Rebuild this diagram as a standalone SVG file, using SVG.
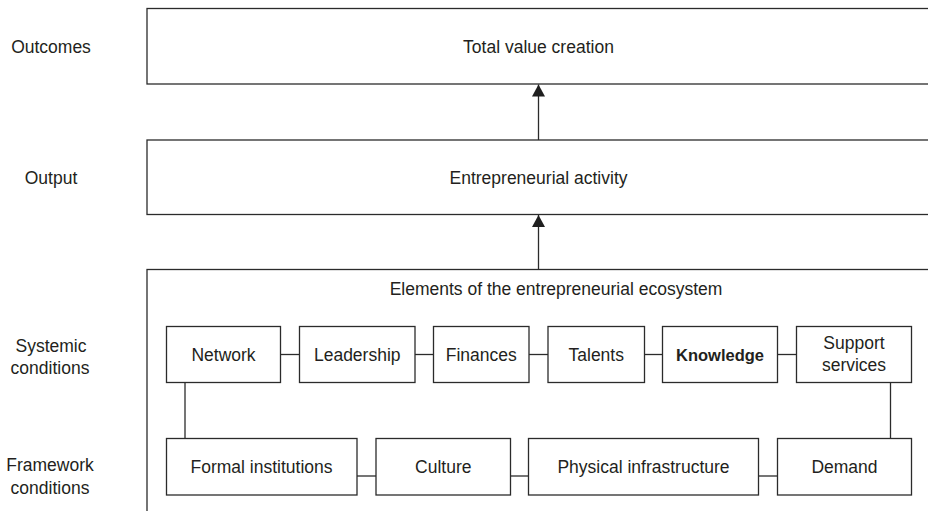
<svg xmlns="http://www.w3.org/2000/svg" width="928" height="511" viewBox="0 0 928 511">
  <style>
    .box { fill: #ffffff; stroke: #2b2b2b; stroke-width: 1.3; }
    .con { fill: none; stroke: #2b2b2b; stroke-width: 1.3; }
    text { font-family: "Liberation Sans", Arial, sans-serif; font-size: 17.5px; fill: #231f20; text-anchor: middle; }
    .bold { font-weight: bold; }
  </style>
  <defs>
    <marker id="arrow" markerUnits="userSpaceOnUse" markerWidth="13" markerHeight="13" refX="12" refY="6.5" orient="auto">
      <path d="M0,0 L12,6.5 L0,13 z" fill="#1f1f1f"/>
    </marker>
  </defs>

  <!-- Row labels -->
  <g id="labels">
    <text x="51" y="53">Outcomes</text>
    <text x="51" y="184">Output</text>
    <text x="51" y="351.5">Systemic</text>
    <text x="50" y="373.5">conditions</text>
    <text x="50" y="471">Framework</text>
    <text x="50" y="494">conditions</text>
  </g>

  <g id="outcomes">
    <rect class="box" x="147" y="8.5" width="800" height="75.5"/>
    <text x="538.5" y="53">Total value creation</text>
  </g>

  <g id="output">
    <rect class="box" x="147" y="140" width="800" height="74.5"/>
    <text x="538.5" y="184">Entrepreneurial activity</text>
  </g>

  <g id="ecosystem">
    <rect class="box" x="147" y="269.5" width="800" height="260"/>
    <text x="556" y="295">Elements of the entrepreneurial ecosystem</text>
  </g>

  <g id="connectors">
    <line class="con" x1="538.5" y1="140" x2="538.5" y2="84.5" marker-end="url(#arrow)"/>
    <line class="con" x1="538.5" y1="269.5" x2="538.5" y2="215" marker-end="url(#arrow)"/>
    <line class="con" x1="280.5" y1="354.5" x2="299.5" y2="354.5"/>
    <line class="con" x1="415" y1="354.5" x2="433.5" y2="354.5"/>
    <line class="con" x1="529" y1="354.5" x2="548" y2="354.5"/>
    <line class="con" x1="644.5" y1="354.5" x2="662.5" y2="354.5"/>
    <line class="con" x1="777.5" y1="354.5" x2="796.5" y2="354.5"/>
    <line class="con" x1="357" y1="476" x2="376" y2="476"/>
    <line class="con" x1="510.5" y1="476" x2="528.5" y2="476"/>
    <line class="con" x1="758.5" y1="476" x2="777.5" y2="476"/>
    <line class="con" x1="185" y1="382.5" x2="185" y2="438.5"/>
    <line class="con" x1="890.5" y1="382.5" x2="890.5" y2="438.5"/>
  </g>

  <g id="network">
    <rect class="box" x="166.5" y="326.5" width="114" height="56"/>
    <text x="223.5" y="360.5">Network</text>
  </g>
  <g id="leadership">
    <rect class="box" x="299.5" y="326.5" width="115.5" height="56"/>
    <text x="357.25" y="360.5">Leadership</text>
  </g>
  <g id="finances">
    <rect class="box" x="433.5" y="326.5" width="95.5" height="56"/>
    <text x="481.25" y="360.5">Finances</text>
  </g>
  <g id="talents">
    <rect class="box" x="548" y="326.5" width="96.5" height="56"/>
    <text x="596.25" y="360.5">Talents</text>
  </g>
  <g id="knowledge">
    <rect class="box" x="662.5" y="326.5" width="115" height="56"/>
    <text class="bold" x="720" y="360.5" style="font-size:16.5px">Knowledge</text>
  </g>
  <g id="support-services">
    <rect class="box" x="796.5" y="326.5" width="115" height="56"/>
    <text x="854" y="349">Support</text>
    <text x="854" y="371">services</text>
  </g>

  <g id="formal-institutions">
    <rect class="box" x="166.5" y="438.5" width="190.5" height="56.5"/>
    <text x="261.5" y="473">Formal institutions</text>
  </g>
  <g id="culture">
    <rect class="box" x="376" y="438.5" width="134.5" height="56.5"/>
    <text x="443.25" y="473">Culture</text>
  </g>
  <g id="physical-infrastructure">
    <rect class="box" x="528.5" y="438.5" width="230" height="56.5"/>
    <text x="643.5" y="473">Physical infrastructure</text>
  </g>
  <g id="demand">
    <rect class="box" x="777.5" y="438.5" width="134" height="56.5"/>
    <text x="844.5" y="473">Demand</text>
  </g>
</svg>
